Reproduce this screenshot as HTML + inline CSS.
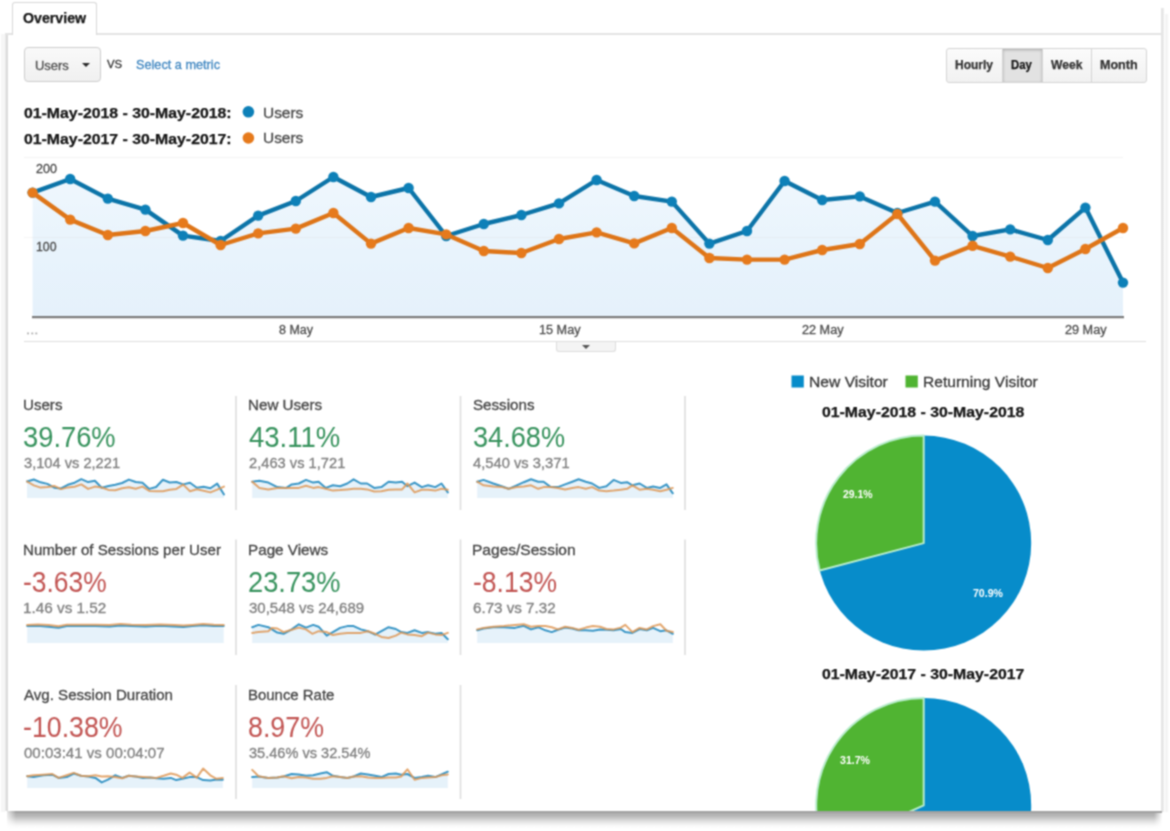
<!DOCTYPE html>
<html lang="en"><head><meta charset="utf-8"><title>Overview</title>
<style>
html,body{margin:0;padding:0;background:#fff;}
body{filter:url(#soft);}
body{width:1170px;height:831px;position:relative;overflow:hidden;font-family:"Liberation Sans", sans-serif;}
.abs{position:absolute;}
.t{position:absolute;white-space:pre;line-height:1;z-index:3;transform-origin:0 0;}
#card{position:absolute;left:5px;top:33px;width:1156px;height:778px;background:linear-gradient(90deg,#e9e9e9 0,#e9e9e9 0.6px,#dcdcdc 0.6px,#dcdcdc 2.6px,#fff 2.6px,#fff 100%);border-top:2px solid #e4e4e4;box-sizing:border-box;}
#rb{position:absolute;left:1161px;top:8px;width:3px;height:804px;background:linear-gradient(90deg,#e2e2e2,#ececec);}
#rb2{position:absolute;left:1165px;top:14px;width:3px;height:798px;background:#f4f4f4;}
#lb2{position:absolute;left:1px;top:34px;width:4px;height:778px;background:#f6f6f6;}
#sh{position:absolute;left:7px;top:811px;width:1155px;height:18px;background:linear-gradient(180deg,#a0a0a0 0,#a4a4a4 2px,#b6b6b6 3px,#b2b2b2 4px,#c6c6c6 7px,#dedede 10px,#f0f0f0 13px,#fafafa 15px,#fff 18px);}
#sh:before{content:"";position:absolute;left:0;top:0;width:9px;height:18px;background:linear-gradient(90deg,rgba(255,255,255,0.75),rgba(255,255,255,0));}
#sh:after{content:"";position:absolute;right:0;top:2px;width:8px;height:16px;background:linear-gradient(270deg,rgba(255,255,255,0.95),rgba(255,255,255,0));}
#tab{position:absolute;left:12px;top:2px;width:83px;height:32px;background:#fff;border:1px solid #d8d8d8;border-bottom:none;border-radius:3px 3px 0 0;}
#dd{position:absolute;left:24px;top:47px;width:75px;height:33px;border:1px solid #cdcdcd;border-radius:4px;background:linear-gradient(#f9f9f9,#f0f0f0);}
#dd:after{content:"";position:absolute;left:57px;top:14.5px;border:4.5px solid transparent;border-top:4.6px solid #2a2a2a;border-bottom:none;}
#bg{position:absolute;left:946px;top:48px;width:199px;height:33px;border:1px solid #d4d4d4;border-radius:3px;background:linear-gradient(#fbfbfb,#f1f1f1);}
#bg i{position:absolute;top:0;height:33px;width:1px;background:#d4d4d4;}
#day{position:absolute;left:56px;top:0;width:39px;height:33px;background:#e2e2e2;box-shadow:inset 0 1px 3px rgba(0,0,0,0.25);}
#hr{position:absolute;left:24px;top:341px;width:1122px;height:1px;background:#dedede;}
#hd{position:absolute;left:556px;top:342px;width:58px;height:9px;border:1px solid #ddd;border-top:none;border-radius:0 0 3px 3px;background:#f4f4f4;}
#hd:after{content:"";position:absolute;left:25px;top:3px;border:4px solid transparent;border-top:4px solid #555;border-bottom:none;}
</style></head>
<body>
<svg width="0" height="0" style="position:absolute"><defs><filter id="soft" x="0" y="0" width="100%" height="100%" color-interpolation-filters="sRGB"><feConvolveMatrix order="3" kernelMatrix="1 2 1 2 5 2 1 2 1" divisor="17" edgeMode="duplicate" preserveAlpha="true"/></filter></defs></svg>
<div id="lb2"></div><div id="card"></div><div id="rb"></div><div id="rb2"></div><div id="sh"></div>
<div id="tab"></div>
<div id="dd"></div>
<div id="bg"><div id="day"></div><i style="left:55px"></i><i style="left:95px"></i><i style="left:144px"></i></div>
<div id="hr"></div><div id="hd"></div>
<svg class="abs" style="left:0;top:0" width="1170" height="831" viewBox="0 0 1170 831">
<defs><linearGradient id="fillg" gradientUnits="userSpaceOnUse" x1="0" y1="177" x2="0" y2="317"><stop offset="0" stop-color="#eff7fd"/><stop offset="0.55" stop-color="#e8f3fc"/><stop offset="1" stop-color="#e5f1fb"/></linearGradient></defs>
<line x1="24" y1="157.5" x2="1123" y2="157.5" stroke="#f4f4f4" stroke-width="1"/>
<polygon points="32.6,192.6 70.2,179.0 107.8,198.6 145.4,209.6 183.0,235.6 220.6,241.0 258.2,215.6 295.8,201.0 333.4,177.0 371.0,197.0 408.6,188.0 446.2,236.0 483.8,224.0 521.4,215.0 559.0,203.4 596.6,180.0 634.2,196.0 671.8,201.6 709.4,243.6 747.0,231.0 784.6,181.0 822.2,200.0 859.8,196.4 897.4,213.0 935.0,201.6 972.6,236.0 1010.2,229.4 1047.8,240.0 1085.4,207.6 1123.0,282.6 1123.0,317 32.6,317" fill="url(#fillg)"/>
<line x1="24" y1="237.5" x2="1123" y2="237.5" stroke="#ddd" stroke-opacity="0.3" stroke-width="1"/>
<line x1="32" y1="317.1" x2="1124" y2="317.1" stroke="#7c7c7c" stroke-width="2.4"/>
<polyline points="32.6,192.6 70.2,179.0 107.8,198.6 145.4,209.6 183.0,235.6 220.6,241.0 258.2,215.6 295.8,201.0 333.4,177.0 371.0,197.0 408.6,188.0 446.2,236.0 483.8,224.0 521.4,215.0 559.0,203.4 596.6,180.0 634.2,196.0 671.8,201.6 709.4,243.6 747.0,231.0 784.6,181.0 822.2,200.0 859.8,196.4 897.4,213.0 935.0,201.6 972.6,236.0 1010.2,229.4 1047.8,240.0 1085.4,207.6 1123.0,282.6" fill="none" stroke="#0c74a8" stroke-width="4.4" stroke-linejoin="round" stroke-linecap="round"/>
<circle cx="32.6" cy="192.6" r="5.2" fill="#0d80b8"/>
<circle cx="70.2" cy="179.0" r="5.2" fill="#0d80b8"/>
<circle cx="107.8" cy="198.6" r="5.2" fill="#0d80b8"/>
<circle cx="145.4" cy="209.6" r="5.2" fill="#0d80b8"/>
<circle cx="183.0" cy="235.6" r="5.2" fill="#0d80b8"/>
<circle cx="220.6" cy="241.0" r="5.2" fill="#0d80b8"/>
<circle cx="258.2" cy="215.6" r="5.2" fill="#0d80b8"/>
<circle cx="295.8" cy="201.0" r="5.2" fill="#0d80b8"/>
<circle cx="333.4" cy="177.0" r="5.2" fill="#0d80b8"/>
<circle cx="371.0" cy="197.0" r="5.2" fill="#0d80b8"/>
<circle cx="408.6" cy="188.0" r="5.2" fill="#0d80b8"/>
<circle cx="446.2" cy="236.0" r="5.2" fill="#0d80b8"/>
<circle cx="483.8" cy="224.0" r="5.2" fill="#0d80b8"/>
<circle cx="521.4" cy="215.0" r="5.2" fill="#0d80b8"/>
<circle cx="559.0" cy="203.4" r="5.2" fill="#0d80b8"/>
<circle cx="596.6" cy="180.0" r="5.2" fill="#0d80b8"/>
<circle cx="634.2" cy="196.0" r="5.2" fill="#0d80b8"/>
<circle cx="671.8" cy="201.6" r="5.2" fill="#0d80b8"/>
<circle cx="709.4" cy="243.6" r="5.2" fill="#0d80b8"/>
<circle cx="747.0" cy="231.0" r="5.2" fill="#0d80b8"/>
<circle cx="784.6" cy="181.0" r="5.2" fill="#0d80b8"/>
<circle cx="822.2" cy="200.0" r="5.2" fill="#0d80b8"/>
<circle cx="859.8" cy="196.4" r="5.2" fill="#0d80b8"/>
<circle cx="897.4" cy="213.0" r="5.2" fill="#0d80b8"/>
<circle cx="935.0" cy="201.6" r="5.2" fill="#0d80b8"/>
<circle cx="972.6" cy="236.0" r="5.2" fill="#0d80b8"/>
<circle cx="1010.2" cy="229.4" r="5.2" fill="#0d80b8"/>
<circle cx="1047.8" cy="240.0" r="5.2" fill="#0d80b8"/>
<circle cx="1085.4" cy="207.6" r="5.2" fill="#0d80b8"/>
<circle cx="1123.0" cy="282.6" r="5.2" fill="#0d80b8"/>
<polyline points="32.6,192.6 70.2,219.6 107.8,235.0 145.4,231.0 183.0,223.0 220.6,245.0 258.2,233.4 295.8,228.6 333.4,213.0 371.0,243.6 408.6,228.0 446.2,234.4 483.8,251.0 521.4,253.0 559.0,239.0 596.6,232.4 634.2,243.4 671.8,228.0 709.4,258.0 747.0,259.6 784.6,259.6 822.2,250.0 859.8,244.0 897.4,214.0 935.0,260.6 972.6,245.8 1010.2,256.6 1047.8,268.0 1085.4,249.0 1123.0,228.0" fill="none" stroke="#de7518" stroke-width="4.4" stroke-linejoin="round" stroke-linecap="round"/>
<circle cx="32.6" cy="192.6" r="5.2" fill="#e67a1c"/>
<circle cx="70.2" cy="219.6" r="5.2" fill="#e67a1c"/>
<circle cx="107.8" cy="235.0" r="5.2" fill="#e67a1c"/>
<circle cx="145.4" cy="231.0" r="5.2" fill="#e67a1c"/>
<circle cx="183.0" cy="223.0" r="5.2" fill="#e67a1c"/>
<circle cx="220.6" cy="245.0" r="5.2" fill="#e67a1c"/>
<circle cx="258.2" cy="233.4" r="5.2" fill="#e67a1c"/>
<circle cx="295.8" cy="228.6" r="5.2" fill="#e67a1c"/>
<circle cx="333.4" cy="213.0" r="5.2" fill="#e67a1c"/>
<circle cx="371.0" cy="243.6" r="5.2" fill="#e67a1c"/>
<circle cx="408.6" cy="228.0" r="5.2" fill="#e67a1c"/>
<circle cx="446.2" cy="234.4" r="5.2" fill="#e67a1c"/>
<circle cx="483.8" cy="251.0" r="5.2" fill="#e67a1c"/>
<circle cx="521.4" cy="253.0" r="5.2" fill="#e67a1c"/>
<circle cx="559.0" cy="239.0" r="5.2" fill="#e67a1c"/>
<circle cx="596.6" cy="232.4" r="5.2" fill="#e67a1c"/>
<circle cx="634.2" cy="243.4" r="5.2" fill="#e67a1c"/>
<circle cx="671.8" cy="228.0" r="5.2" fill="#e67a1c"/>
<circle cx="709.4" cy="258.0" r="5.2" fill="#e67a1c"/>
<circle cx="747.0" cy="259.6" r="5.2" fill="#e67a1c"/>
<circle cx="784.6" cy="259.6" r="5.2" fill="#e67a1c"/>
<circle cx="822.2" cy="250.0" r="5.2" fill="#e67a1c"/>
<circle cx="859.8" cy="244.0" r="5.2" fill="#e67a1c"/>
<circle cx="897.4" cy="214.0" r="5.2" fill="#e67a1c"/>
<circle cx="935.0" cy="260.6" r="5.2" fill="#e67a1c"/>
<circle cx="972.6" cy="245.8" r="5.2" fill="#e67a1c"/>
<circle cx="1010.2" cy="256.6" r="5.2" fill="#e67a1c"/>
<circle cx="1047.8" cy="268.0" r="5.2" fill="#e67a1c"/>
<circle cx="1085.4" cy="249.0" r="5.2" fill="#e67a1c"/>
<circle cx="1123.0" cy="228.0" r="5.2" fill="#e67a1c"/>
<circle cx="248.4" cy="111.8" r="5.8" fill="#0d80b8"/>
<circle cx="248.4" cy="138" r="5.8" fill="#e67a1c"/>
<polygon points="27.0,481.5 33.8,479.5 40.6,482.3 47.4,483.9 54.2,487.7 61.0,488.5 67.8,484.8 74.6,482.7 81.3,479.2 88.1,482.1 94.9,480.8 101.7,487.8 108.5,486.0 115.3,484.7 122.1,483.0 128.9,479.6 135.7,482.0 142.5,482.8 149.3,488.9 156.1,487.0 162.9,479.8 169.7,482.5 176.4,482.0 183.2,484.4 190.0,482.8 196.8,487.8 203.6,486.8 210.4,488.3 217.2,483.6 224.0,494.5 224.0,498.0 27.0,498.0" fill="#e6f2fa"/>
<polyline points="27.0,481.5 33.8,479.5 40.6,482.3 47.4,483.9 54.2,487.7 61.0,488.5 67.8,484.8 74.6,482.7 81.3,479.2 88.1,482.1 94.9,480.8 101.7,487.8 108.5,486.0 115.3,484.7 122.1,483.0 128.9,479.6 135.7,482.0 142.5,482.8 149.3,488.9 156.1,487.0 162.9,479.8 169.7,482.5 176.4,482.0 183.2,484.4 190.0,482.8 196.8,487.8 203.6,486.8 210.4,488.3 217.2,483.6 224.0,494.5" fill="none" stroke="#3a96c6" stroke-width="2" stroke-linejoin="round" stroke-linecap="round"/>
<polyline points="27.0,481.5 33.8,485.4 40.6,487.6 47.4,487.0 54.2,485.9 61.0,489.1 67.8,487.4 74.6,486.7 81.3,484.4 88.1,488.9 94.9,486.6 101.7,487.5 108.5,489.9 115.3,490.2 122.1,488.2 128.9,487.2 135.7,488.8 142.5,486.6 149.3,490.9 156.1,491.2 162.9,491.2 169.7,489.8 176.4,488.9 183.2,484.6 190.0,491.3 196.8,489.2 203.6,490.7 210.4,492.4 217.2,489.6 224.0,486.6" fill="none" stroke="#de9856" stroke-width="2" stroke-linejoin="round" stroke-linecap="round" stroke-opacity="0.85"/>
<polygon points="252.2,481.7 259.4,480.8 268.3,482.6 277.3,487.1 286.3,487.9 291.7,484.4 298.8,483.5 306.0,479.9 313.2,482.6 318.6,481.7 325.8,487.9 332.9,485.3 340.1,486.2 347.3,483.5 353.6,479.3 360.8,483.5 367.1,483.5 374.2,487.9 381.4,487.1 388.6,481.7 395.8,482.6 402.1,481.7 407.4,486.2 414.6,482.6 421.8,487.1 428.1,485.3 435.3,487.1 441.5,483.5 447.8,492.4 447.8,498.0 252.2,498.0" fill="#e6f2fa"/>
<polyline points="252.2,481.7 259.4,480.8 268.3,482.6 277.3,487.1 286.3,487.9 291.7,484.4 298.8,483.5 306.0,479.9 313.2,482.6 318.6,481.7 325.8,487.9 332.9,485.3 340.1,486.2 347.3,483.5 353.6,479.3 360.8,483.5 367.1,483.5 374.2,487.9 381.4,487.1 388.6,481.7 395.8,482.6 402.1,481.7 407.4,486.2 414.6,482.6 421.8,487.1 428.1,485.3 435.3,487.1 441.5,483.5 447.8,492.4" fill="none" stroke="#3a96c6" stroke-width="2" stroke-linejoin="round" stroke-linecap="round"/>
<polyline points="252.2,481.7 259.4,487.9 268.3,489.4 277.3,487.9 286.3,487.9 291.7,487.9 298.8,487.9 306.0,485.8 313.2,487.9 318.6,487.1 325.8,488.8 332.9,490.6 340.1,490.1 347.3,489.4 353.6,488.8 360.8,488.8 367.1,489.4 374.2,491.5 381.4,491.2 388.6,489.7 395.8,489.4 402.1,489.4 407.4,483.5 414.6,492.4 421.8,489.7 428.1,489.7 435.3,490.6 441.5,488.8 447.8,489.7" fill="none" stroke="#de9856" stroke-width="2" stroke-linejoin="round" stroke-linecap="round" stroke-opacity="0.85"/>
<polygon points="477.2,481.7 483.5,479.9 493.3,483.5 502.3,486.5 508.6,488.8 516.7,485.3 523.8,482.2 531.0,479.3 538.2,481.7 543.6,481.7 550.8,487.1 557.9,487.1 565.1,484.4 572.3,481.7 578.6,479.3 585.8,481.7 592.1,483.5 599.2,487.9 606.4,486.2 613.6,479.9 620.8,482.9 627.1,482.2 632.4,485.3 639.6,483.5 646.8,487.9 653.1,486.5 660.3,487.9 666.5,484.4 672.8,493.3 672.8,498.0 477.2,498.0" fill="#e6f2fa"/>
<polyline points="477.2,481.7 483.5,479.9 493.3,483.5 502.3,486.5 508.6,488.8 516.7,485.3 523.8,482.2 531.0,479.3 538.2,481.7 543.6,481.7 550.8,487.1 557.9,487.1 565.1,484.4 572.3,481.7 578.6,479.3 585.8,481.7 592.1,483.5 599.2,487.9 606.4,486.2 613.6,479.9 620.8,482.9 627.1,482.2 632.4,485.3 639.6,483.5 646.8,487.9 653.1,486.5 660.3,487.9 666.5,484.4 672.8,493.3" fill="none" stroke="#3a96c6" stroke-width="2" stroke-linejoin="round" stroke-linecap="round"/>
<polyline points="477.2,481.7 483.5,485.3 493.3,486.5 502.3,487.1 508.6,488.8 516.7,487.1 523.8,486.5 531.0,485.3 538.2,488.8 543.6,487.1 550.8,487.1 557.9,487.9 565.1,489.4 572.3,487.9 578.6,487.1 585.8,488.8 592.1,487.1 599.2,490.6 606.4,491.2 613.6,490.6 620.8,489.7 627.1,488.8 632.4,485.3 639.6,489.7 646.8,488.8 653.1,489.7 660.3,491.2 666.5,489.7 672.8,487.9" fill="none" stroke="#de9856" stroke-width="2" stroke-linejoin="round" stroke-linecap="round" stroke-opacity="0.85"/>
<polygon points="27.2,626.0 37.9,625.7 48.7,626.7 58.6,627.8 66.7,626.0 79.2,626.0 95.4,626.0 109.7,626.4 120.5,625.5 131.3,626.0 145.6,626.4 160.0,625.7 174.4,626.4 183.3,626.9 192.3,626.0 203.1,625.3 213.8,626.0 223.7,626.0 223.7,643.0 27.2,643.0" fill="#e6f2fa"/>
<polyline points="27.2,626.0 37.9,625.7 48.7,626.7 58.6,627.8 66.7,626.0 79.2,626.0 95.4,626.0 109.7,626.4 120.5,625.5 131.3,626.0 145.6,626.4 160.0,625.7 174.4,626.4 183.3,626.9 192.3,626.0 203.1,625.3 213.8,626.0 223.7,626.0" fill="none" stroke="#3a96c6" stroke-width="2" stroke-linejoin="round" stroke-linecap="round"/>
<polyline points="27.2,625.1 37.9,624.6 48.7,625.1 58.6,626.2 66.7,624.8 79.2,624.8 95.4,624.8 109.7,625.1 120.5,624.0 131.3,624.8 145.6,625.1 160.0,624.6 174.4,625.1 183.3,625.5 192.3,624.9 203.1,624.0 213.8,624.8 223.7,624.9" fill="none" stroke="#de9856" stroke-width="2" stroke-linejoin="round" stroke-linecap="round" stroke-opacity="0.85"/>
<polygon points="252.2,627.2 258.5,624.9 268.3,627.2 277.3,632.6 283.6,633.8 291.7,629.4 298.8,624.3 306.0,627.6 313.2,624.9 318.6,626.7 326.7,635.6 332.9,632.1 340.1,627.9 347.3,626.1 353.6,626.1 360.8,629.4 367.9,631.2 375.1,634.7 381.4,631.2 388.6,627.2 395.8,629.0 401.2,632.1 407.4,632.9 414.6,630.3 421.8,632.9 428.1,632.1 435.3,633.8 441.5,632.9 447.8,639.2 447.8,643.0 252.2,643.0" fill="#e6f2fa"/>
<polyline points="252.2,627.2 258.5,624.9 268.3,627.2 277.3,632.6 283.6,633.8 291.7,629.4 298.8,624.3 306.0,627.6 313.2,624.9 318.6,626.7 326.7,635.6 332.9,632.1 340.1,627.9 347.3,626.1 353.6,626.1 360.8,629.4 367.9,631.2 375.1,634.7 381.4,631.2 388.6,627.2 395.8,629.0 401.2,632.1 407.4,632.9 414.6,630.3 421.8,632.9 428.1,632.1 435.3,633.8 441.5,632.9 447.8,639.2" fill="none" stroke="#3a96c6" stroke-width="2" stroke-linejoin="round" stroke-linecap="round"/>
<polyline points="252.2,632.9 258.5,632.1 268.3,631.2 271.9,627.9 277.3,628.5 283.6,632.1 291.7,629.7 298.8,627.6 306.0,629.4 312.3,633.8 318.6,631.2 326.7,632.1 332.9,635.1 340.1,633.8 347.3,632.9 353.6,632.9 360.8,632.9 367.9,631.2 375.1,633.8 381.4,636.9 388.6,638.0 395.8,635.6 401.2,632.6 407.4,634.4 414.6,635.1 421.8,636.2 428.1,632.6 435.3,634.4 441.5,635.1 447.8,632.9" fill="none" stroke="#de9856" stroke-width="2" stroke-linejoin="round" stroke-linecap="round" stroke-opacity="0.85"/>
<polygon points="477.2,630.3 483.5,628.5 493.3,627.2 504.1,627.2 514.9,627.9 523.8,625.8 531.0,629.4 538.2,627.2 545.4,630.3 551.7,632.1 557.9,629.7 565.1,627.6 572.3,628.5 578.6,630.3 585.8,630.3 592.9,630.8 600.1,629.4 606.4,629.7 613.6,630.3 620.8,629.0 625.3,632.1 632.4,632.9 639.6,629.0 646.8,630.3 653.1,627.9 660.3,631.2 666.5,630.3 672.8,633.8 672.8,643.0 477.2,643.0" fill="#e6f2fa"/>
<polyline points="477.2,630.3 483.5,628.5 493.3,627.2 504.1,627.2 514.9,627.9 523.8,625.8 531.0,629.4 538.2,627.2 545.4,630.3 551.7,632.1 557.9,629.7 565.1,627.6 572.3,628.5 578.6,630.3 585.8,630.3 592.9,630.8 600.1,629.4 606.4,629.7 613.6,630.3 620.8,629.0 625.3,632.1 632.4,632.9 639.6,629.0 646.8,630.3 653.1,627.9 660.3,631.2 666.5,630.3 672.8,633.8" fill="none" stroke="#3a96c6" stroke-width="2" stroke-linejoin="round" stroke-linecap="round"/>
<polyline points="477.2,629.4 483.5,627.9 493.3,626.7 504.1,626.1 514.9,624.9 523.8,624.3 531.0,626.7 538.2,626.1 545.4,626.1 551.7,627.2 557.9,629.4 565.1,626.7 572.3,627.9 578.6,629.7 585.8,627.6 592.9,626.1 600.1,626.7 606.4,629.0 613.6,629.4 620.8,627.6 625.3,624.9 632.4,632.1 639.6,627.9 646.8,629.4 653.1,626.1 660.3,624.3 666.5,630.8 672.8,632.1" fill="none" stroke="#de9856" stroke-width="2" stroke-linejoin="round" stroke-linecap="round" stroke-opacity="0.85"/>
<polygon points="27.2,776.2 33.5,777.1 43.3,775.3 52.3,774.7 58.6,777.9 66.7,777.1 73.8,773.5 81.0,775.8 88.2,776.5 95.4,777.9 101.7,782.4 107.9,779.7 115.1,775.3 122.3,777.9 128.6,775.8 135.8,776.5 142.9,777.9 150.1,777.6 156.4,778.3 163.6,778.8 170.8,777.9 176.2,780.1 182.4,778.8 189.6,777.1 196.8,777.1 203.1,780.1 210.3,780.6 216.5,779.4 222.8,779.7 222.8,788.0 27.2,788.0" fill="#e6f2fa"/>
<polyline points="27.2,776.2 33.5,777.1 43.3,775.3 52.3,774.7 58.6,777.9 66.7,777.1 73.8,773.5 81.0,775.8 88.2,776.5 95.4,777.9 101.7,782.4 107.9,779.7 115.1,775.3 122.3,777.9 128.6,775.8 135.8,776.5 142.9,777.9 150.1,777.6 156.4,778.3 163.6,778.8 170.8,777.9 176.2,780.1 182.4,778.8 189.6,777.1 196.8,777.1 203.1,780.1 210.3,780.6 216.5,779.4 222.8,779.7" fill="none" stroke="#3a96c6" stroke-width="2" stroke-linejoin="round" stroke-linecap="round"/>
<polyline points="27.2,776.2 33.5,775.3 43.3,774.7 52.3,774.0 58.6,777.9 66.7,775.3 73.8,772.9 81.0,775.8 88.2,776.2 95.4,775.3 101.7,776.5 107.9,776.2 115.1,777.1 122.3,778.3 128.6,775.8 135.8,776.5 142.9,777.1 150.1,777.6 156.4,777.9 163.6,775.8 170.8,773.5 176.2,774.7 182.4,777.9 189.6,772.6 196.8,777.6 203.1,768.6 210.3,775.3 216.5,778.8 222.8,777.9" fill="none" stroke="#de9856" stroke-width="2" stroke-linejoin="round" stroke-linecap="round" stroke-opacity="0.85"/>
<polygon points="252.2,777.1 258.5,776.5 268.3,777.9 277.3,777.6 283.6,776.5 291.7,774.0 298.8,774.4 306.0,775.8 313.2,775.3 320.4,773.5 326.7,772.2 332.9,775.8 340.1,777.1 347.3,777.9 353.6,776.5 360.8,773.5 367.9,774.4 375.1,775.8 381.4,777.1 388.6,774.0 395.8,773.5 401.2,774.7 407.4,774.0 414.6,777.9 421.8,777.1 428.1,775.8 435.3,777.1 441.5,774.4 447.8,771.7 447.8,788.0 252.2,788.0" fill="#e6f2fa"/>
<polyline points="252.2,777.1 258.5,776.5 268.3,777.9 277.3,777.6 283.6,776.5 291.7,774.0 298.8,774.4 306.0,775.8 313.2,775.3 320.4,773.5 326.7,772.2 332.9,775.8 340.1,777.1 347.3,777.9 353.6,776.5 360.8,773.5 367.9,774.4 375.1,775.8 381.4,777.1 388.6,774.0 395.8,773.5 401.2,774.7 407.4,774.0 414.6,777.9 421.8,777.1 428.1,775.8 435.3,777.1 441.5,774.4 447.8,771.7" fill="none" stroke="#3a96c6" stroke-width="2" stroke-linejoin="round" stroke-linecap="round"/>
<polyline points="252.2,769.9 258.5,776.2 268.3,777.9 277.3,777.6 283.6,776.2 291.7,778.3 298.8,777.1 306.0,777.6 313.2,778.8 320.4,778.8 326.7,777.9 332.9,776.2 340.1,777.1 347.3,777.9 353.6,776.5 360.8,776.2 367.9,777.6 375.1,777.9 381.4,777.9 388.6,777.6 395.8,777.6 401.2,776.5 407.4,769.3 414.6,779.7 421.8,777.9 428.1,777.6 435.3,777.1 441.5,775.3 447.8,774.4" fill="none" stroke="#de9856" stroke-width="2" stroke-linejoin="round" stroke-linecap="round" stroke-opacity="0.85"/>
<line x1="236.0" y1="396.0" x2="236.0" y2="510.0" stroke="#dedede" stroke-width="1.6"/>
<line x1="460.5" y1="396.0" x2="460.5" y2="510.0" stroke="#dedede" stroke-width="1.6"/>
<line x1="685.0" y1="396.0" x2="685.0" y2="510.0" stroke="#dedede" stroke-width="1.6"/>
<line x1="236.0" y1="539.5" x2="236.0" y2="655.0" stroke="#dedede" stroke-width="1.6"/>
<line x1="460.5" y1="539.5" x2="460.5" y2="655.0" stroke="#dedede" stroke-width="1.6"/>
<line x1="685.0" y1="539.5" x2="685.0" y2="655.0" stroke="#dedede" stroke-width="1.6"/>
<line x1="236.0" y1="685.0" x2="236.0" y2="799.0" stroke="#dedede" stroke-width="1.6"/>
<line x1="460.5" y1="685.0" x2="460.5" y2="799.0" stroke="#dedede" stroke-width="1.6"/>
<rect x="791.5" y="375.5" width="12.3" height="12" fill="#078cca"/>
<rect x="905.5" y="375.5" width="12.3" height="12" fill="#50b432"/>
<circle cx="923.7" cy="543.1" r="107.5" fill="#078cca"/>
<path d="M923.7,543.1 L923.7,435.6 A107.5,107.5 0 0 0 819.7,570.5 Z" fill="#50b432" stroke="#b8eccc" stroke-width="2" stroke-linejoin="round"/>
<g clip-path="url(#cb)">
<circle cx="923.7" cy="805.4" r="107.5" fill="#078cca"/>
<path d="M923.7,805.4 L923.7,697.9 A107.5,107.5 0 0 0 825.6,849.3 Z" fill="#50b432" stroke="#b8eccc" stroke-width="2" stroke-linejoin="round"/>
</g>
<defs><clipPath id="cb"><rect x="0" y="0" width="1170" height="811"/></clipPath></defs>
</svg>
<div class="grp tabs">
<span class="t tab-label" style="left:23.0px;top:11.2px;font-size:14px;color:#161616;font-weight:bold;transform:scaleX(1.013);-webkit-text-stroke:0.25px;">Overview</span>
</div>
<div class="grp controls">
<span class="t ctl" style="left:34.9px;top:58.7px;font-size:13px;color:#505050;transform:scaleX(0.996);-webkit-text-stroke:0.3px;">Users</span>
<span class="t ctl" style="left:106.9px;top:59.0px;font-size:11px;color:#333;transform:scaleX(1.032);-webkit-text-stroke:0.3px;">VS</span>
<span class="t ctl" style="left:136.0px;top:58.4px;font-size:13px;color:#3f86c0;transform:scaleX(0.977);-webkit-text-stroke:0.3px;">Select a metric</span>
</div>
<div class="grp legend">
<span class="t lg" style="left:24.0px;top:105.9px;font-size:14.3px;color:#161616;font-weight:bold;transform:scaleX(1.107);-webkit-text-stroke:0.25px;">01-May-2018 - 30-May-2018:</span>
<span class="t lg" style="left:263.1px;top:105.7px;font-size:14.5px;color:#484848;transform:scaleX(1.065);-webkit-text-stroke:0.3px;">Users</span>
<span class="t lg" style="left:24.0px;top:131.5px;font-size:14.3px;color:#161616;font-weight:bold;transform:scaleX(1.107);-webkit-text-stroke:0.25px;">01-May-2017 - 30-May-2017:</span>
<span class="t lg" style="left:263.1px;top:131.3px;font-size:14.5px;color:#484848;transform:scaleX(1.065);-webkit-text-stroke:0.3px;">Users</span>
</div>
<div class="grp granularity">
<span class="t gran" style="left:955.0px;top:59.1px;font-size:12px;color:#333;font-weight:bold;-webkit-text-stroke:0.25px;">Hourly</span>
<span class="t gran" style="left:1011.0px;top:59.1px;font-size:12px;color:#161616;font-weight:bold;transform:scaleX(0.940);-webkit-text-stroke:0.25px;">Day</span>
<span class="t gran" style="left:1051.0px;top:59.1px;font-size:12px;color:#333;font-weight:bold;transform:scaleX(1.011);-webkit-text-stroke:0.25px;">Week</span>
<span class="t gran" style="left:1100.3px;top:59.1px;font-size:12px;color:#333;font-weight:bold;transform:scaleX(1.046);-webkit-text-stroke:0.25px;">Month</span>
</div>
<div class="grp axis">
<span class="t ax" style="left:35.8px;top:162.8px;font-size:12px;color:#4a4a4a;transform:scaleX(1.042);-webkit-text-stroke:0.3px;">200</span>
<span class="t ax" style="left:36.2px;top:241.4px;font-size:12px;color:#4a4a4a;transform:scaleX(1.022);-webkit-text-stroke:0.3px;">100</span>
<span class="t ax" style="left:278.8px;top:324.0px;font-size:12px;color:#505050;transform:scaleX(1.040);-webkit-text-stroke:0.3px;">8 May</span>
<span class="t ax" style="left:538.6px;top:324.0px;font-size:12px;color:#505050;transform:scaleX(1.055);-webkit-text-stroke:0.3px;">15 May</span>
<span class="t ax" style="left:801.5px;top:324.0px;font-size:12px;color:#505050;transform:scaleX(1.055);-webkit-text-stroke:0.3px;">22 May</span>
<span class="t ax" style="left:1064.7px;top:324.0px;font-size:12px;color:#505050;transform:scaleX(1.055);-webkit-text-stroke:0.3px;">29 May</span>
<span class="t ax" style="left:25.6px;top:325.2px;font-size:11px;color:#aaa;transform:scaleX(1.356);-webkit-text-stroke:0.3px;">...</span>
</div>
<div class="grp metric">
<span class="t m-label" style="left:23.2px;top:398.4px;font-size:14.2px;color:#464646;transform:scaleX(1.065);-webkit-text-stroke:0.3px;">Users</span>
<span class="t m-value" style="left:23.4px;top:421.5px;font-size:30.2px;color:#38935e;transform:scaleX(0.905);">39.76%</span>
<span class="t m-sub" style="left:24.3px;top:455.6px;font-size:14.4px;color:#808080;transform:scaleX(1.017);-webkit-text-stroke:0.3px;">3,104 vs 2,221</span>
</div>
<div class="grp metric">
<span class="t m-label" style="left:247.6px;top:398.4px;font-size:14.2px;color:#464646;transform:scaleX(1.069);-webkit-text-stroke:0.3px;">New Users</span>
<span class="t m-value" style="left:248.7px;top:421.5px;font-size:30.2px;color:#38935e;transform:scaleX(0.912);">43.11%</span>
<span class="t m-sub" style="left:248.7px;top:455.6px;font-size:14.4px;color:#808080;transform:scaleX(1.020);-webkit-text-stroke:0.3px;">2,463 vs 1,721</span>
</div>
<div class="grp metric">
<span class="t m-label" style="left:473.4px;top:398.4px;font-size:14.2px;color:#464646;transform:scaleX(1.068);-webkit-text-stroke:0.3px;">Sessions</span>
<span class="t m-value" style="left:472.5px;top:421.5px;font-size:30.2px;color:#38935e;transform:scaleX(0.899);">34.68%</span>
<span class="t m-sub" style="left:473.4px;top:455.6px;font-size:14.4px;color:#808080;transform:scaleX(1.023);-webkit-text-stroke:0.3px;">4,540 vs 3,371</span>
</div>
<div class="grp metric">
<span class="t m-label" style="left:23.2px;top:543.4px;font-size:14.2px;color:#464646;transform:scaleX(1.064);-webkit-text-stroke:0.3px;">Number of Sessions per User</span>
<span class="t m-value" style="left:23.4px;top:566.5px;font-size:30.2px;color:#c25553;transform:scaleX(0.874);">-3.63%</span>
<span class="t m-sub" style="left:23.2px;top:600.6px;font-size:14.4px;color:#808080;transform:scaleX(1.062);-webkit-text-stroke:0.3px;">1.46 vs 1.52</span>
</div>
<div class="grp metric">
<span class="t m-label" style="left:247.6px;top:543.4px;font-size:14.2px;color:#464646;transform:scaleX(1.074);-webkit-text-stroke:0.3px;">Page Views</span>
<span class="t m-value" style="left:247.8px;top:566.5px;font-size:30.2px;color:#38935e;transform:scaleX(0.903);">23.73%</span>
<span class="t m-sub" style="left:248.7px;top:600.6px;font-size:14.4px;color:#808080;transform:scaleX(1.042);-webkit-text-stroke:0.3px;">30,548 vs 24,689</span>
</div>
<div class="grp metric">
<span class="t m-label" style="left:472.3px;top:543.4px;font-size:14.2px;color:#464646;transform:scaleX(1.095);-webkit-text-stroke:0.3px;">Pages/Session</span>
<span class="t m-value" style="left:472.5px;top:566.5px;font-size:30.2px;color:#c25553;transform:scaleX(0.878);">-8.13%</span>
<span class="t m-sub" style="left:473.4px;top:600.6px;font-size:14.4px;color:#808080;transform:scaleX(1.054);-webkit-text-stroke:0.3px;">6.73 vs 7.32</span>
</div>
<div class="grp metric">
<span class="t m-label" style="left:24.3px;top:688.4px;font-size:14.2px;color:#464646;transform:scaleX(1.063);-webkit-text-stroke:0.3px;">Avg. Session Duration</span>
<span class="t m-value" style="left:23.4px;top:711.5px;font-size:30.2px;color:#c25553;transform:scaleX(0.886);">-10.38%</span>
<span class="t m-sub" style="left:24.3px;top:745.6px;font-size:14.4px;color:#808080;transform:scaleX(1.046);-webkit-text-stroke:0.3px;">00:03:41 vs 00:04:07</span>
</div>
<div class="grp metric">
<span class="t m-label" style="left:247.6px;top:688.4px;font-size:14.2px;color:#464646;transform:scaleX(1.053);-webkit-text-stroke:0.3px;">Bounce Rate</span>
<span class="t m-value" style="left:247.8px;top:711.5px;font-size:30.2px;color:#c25553;transform:scaleX(0.888);">8.97%</span>
<span class="t m-sub" style="left:248.7px;top:745.6px;font-size:14.4px;color:#808080;transform:scaleX(1.012);-webkit-text-stroke:0.3px;">35.46% vs 32.54%</span>
</div>
<div class="grp pies">
<span class="t pie-t" style="left:808.9px;top:375.0px;font-size:14.3px;color:#3a3a3a;transform:scaleX(1.094);-webkit-text-stroke:0.3px;">New Visitor</span>
<span class="t pie-t" style="left:922.5px;top:375.0px;font-size:14.3px;color:#3a3a3a;transform:scaleX(1.089);-webkit-text-stroke:0.3px;">Returning Visitor</span>
<span class="t pie-t" style="left:822.4px;top:404.5px;font-size:14.3px;color:#161616;font-weight:bold;transform:scaleX(1.107);-webkit-text-stroke:0.25px;">01-May-2018 - 30-May-2018</span>
<span class="t pie-t" style="left:822.4px;top:666.9px;font-size:14.3px;color:#161616;font-weight:bold;transform:scaleX(1.107);-webkit-text-stroke:0.25px;">01-May-2017 - 30-May-2017</span>
<span class="t pie-t" style="left:843.2px;top:489.7px;font-size:10px;color:#fff;font-weight:bold;transform:scaleX(1.043);">29.1%</span>
<span class="t pie-t" style="left:973.4px;top:588.5px;font-size:10px;color:#fff;font-weight:bold;transform:scaleX(1.054);">70.9%</span>
<span class="t pie-t" style="left:839.9px;top:756.1px;font-size:10px;color:#fff;font-weight:bold;transform:scaleX(1.058);">31.7%</span>
</div>
</body></html>
